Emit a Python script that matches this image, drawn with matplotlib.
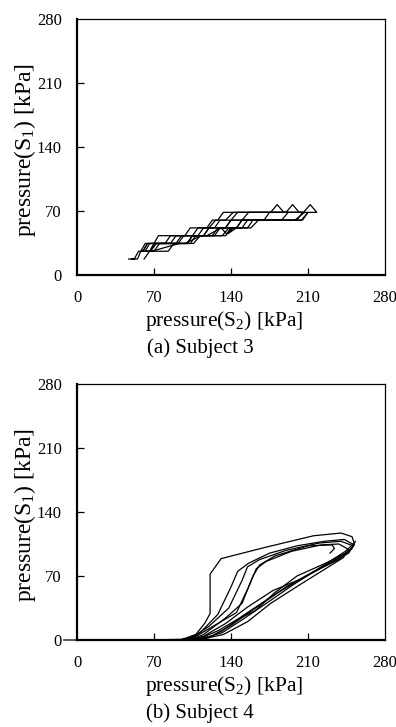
import matplotlib
matplotlib.use("Agg")
import matplotlib.pyplot as plt

plt.rcParams["font.family"] = ["Liberation Serif", "DejaVu Serif"]
plt.rcParams["mathtext.fontset"] = "custom"
plt.rcParams["mathtext.rm"] = "Liberation Serif"

# axis ticks shared by both panels
ticks = [0, 70, 140, 210, 280]
tickLabels = ["0", "70", "140", "210", "280"]

# (a) Subject 3 : quantized S1 staircase cycles
s3_x1 = [47, 52, 56, 60, 64, 85, 90, 110, 115, 125, 130, 140, 146, 176, 182, 188, 205,
         200, 160, 155, 140, 135, 105, 100, 75, 70, 58, 55, 50]
s3_y1 = [17.5, 17.5, 26, 26, 34.5, 34.5, 43, 43, 51.5, 51.5, 60, 60, 68.5, 68.5, 77, 68.5, 68.5,
         60, 60, 51.5, 51.5, 43, 43, 34.5, 34.5, 26, 26, 17.5, 17.5]
s3_x2 = [60, 64, 80, 85, 105, 110, 120, 126, 135, 142, 190, 196, 202, 210,
         205, 165, 158, 138, 132, 112, 106, 72, 67, 62]
s3_y2 = [26, 34.5, 34.5, 43, 43, 51.5, 51.5, 60, 60, 68.5, 68.5, 77, 68.5, 68.5,
         60, 60, 51.5, 51.5, 43, 43, 34.5, 34.5, 26, 26]
s3_x3 = [62, 66, 92, 97, 115, 120, 135, 140, 150, 156, 206, 212, 218, 210,
         204, 155, 150, 141, 136, 131, 118, 113, 98, 93, 68, 63]
s3_y3 = [26, 34.5, 34.5, 43, 43, 51.5, 51.5, 60, 60, 68.5, 68.5, 77, 68.5, 68.5,
         60, 60, 51.5, 51.5, 45, 51.5, 43, 43, 34.5, 34.5, 26, 26]
s3_x4 = [58, 62, 70, 74, 98, 103, 118, 123, 128, 133, 145, 150, 200, 207,
         198, 150, 145, 128, 123, 108, 103, 88, 83, 66, 61]
s3_y4 = [26, 34.5, 34.5, 43, 43, 51.5, 51.5, 60, 60, 68.5, 68.5, 68.5, 68.5, 68.5,
         60, 60, 51.5, 51.5, 43, 43, 34.5, 34.5, 26, 26, 17.5]
s3_x5 = [66, 70, 100, 105, 125, 130, 142, 137, 145, 150, 170, 175, 192,
         186, 140, 135, 120, 115, 95, 90, 72, 66]
s3_y5 = [26, 34.5, 34.5, 43, 43, 51.5, 51.5, 45, 51.5, 60, 60, 68.5, 68.5,
         60, 60, 51.5, 51.5, 43, 43, 34.5, 34.5, 26]
subject3 = [(s3_x1, s3_y1), (s3_x2, s3_y2), (s3_x3, s3_y3), (s3_x4, s3_y4), (s3_x5, s3_y5)]

# (b) Subject 4 : hysteresis loops
s4_x1 = [-12, 40, 95, 108, 116, 121, 121, 131, 170, 215, 240, 250, 252, 244, 222, 196, 172, 150, 132, 112, 60, 0]
s4_y1 = [0, 0, 0.5, 6, 18, 29, 72, 89, 101, 114, 117, 113, 106, 97, 80, 60, 40, 22, 8, 1, 0, 0]
s4_x2 = [0, 98, 112, 128, 140, 146, 156, 175, 200, 225, 243, 252, 248, 232, 208, 183, 160, 140, 122, 100, 0]
s4_y2 = [0, 0, 8, 28, 58, 75, 84, 95, 103, 108, 110, 104, 98, 86, 70, 52, 33, 16, 4, 0, 0]
s4_x3 = [98, 105, 120, 138, 150, 155, 166, 190, 220, 240, 251, 247, 230, 206, 178, 155, 135, 115, 100]
s4_y3 = [0, 3, 15, 35, 65, 80, 88, 98, 106, 108, 103, 95, 84, 68, 54, 36, 18, 4, 0]
s4_x4 = [100, 108, 128, 145, 156, 163, 172, 195, 222, 238, 247, 242, 226, 202, 176, 155, 133, 114, 100]
s4_y4 = [0, 4, 18, 30, 58, 78, 86, 97, 104, 105, 99, 90, 78, 60, 40, 20, 6, 1, 0]
s4_x5 = [102, 115, 135, 150, 160, 166, 180, 210, 232, 234, 230]
s4_y5 = [0, 6, 24, 40, 70, 82, 92, 103, 104, 100, 95]
s4_x6 = [253, 250, 238, 214, 190, 170, 150, 132, 115, 60, 0]
s4_y6 = [108, 100, 88, 74, 58, 42, 26, 10, 0, 0, 0]
s4_x7 = [252, 246, 226, 200, 180, 162, 145, 128, 108]
s4_y7 = [104, 96, 84, 70, 52, 32, 22, 10, 0]
subject4 = [(s4_x1, s4_y1), (s4_x2, s4_y2), (s4_x3, s4_y3), (s4_x4, s4_y4),
            (s4_x5, s4_y5), (s4_x6, s4_y6), (s4_x7, s4_y7)]

fig = plt.figure(figsize=(3.96, 7.27), dpi=100)
W, H = 396.0, 727.0

panels = [
    (subject3, 19, "(a) Subject 3"),
    (subject4, 384, "(b) Subject 4"),
]

for series, topPx, caption in panels:
    ax = fig.add_axes([77 / W, 1 - (topPx + 256) / H, 308 / W, 256 / H])
    for x, y in series:
        ax.plot(x, y, color="black", lw=0.9, clip_on=False)
    ax.set_xlim(0, 280)
    ax.set_ylim(0, 280)
    ax.set_xticks(ticks[1:-1])
    ax.set_yticks(ticks[1:-1])
    ax.set_xticklabels(tickLabels[1:-1])
    ax.set_yticklabels(tickLabels[1:-1])
    ax.set_xticks([0, 280], minor=True)
    ax.set_yticks([0, 280], minor=True)
    ax.set_xticklabels(["0", "280"], minor=True)
    ax.set_yticklabels(["0", "280"], minor=True)
    ax.tick_params(which="both", direction="in", length=5, width=0.9, labelsize=12, pad=11)
    ax.tick_params(which="minor", length=0)
    for side in ["left", "bottom"]:
        ax.spines[side].set_linewidth(1.6)
    for side in ["top", "right"]:
        ax.spines[side].set_linewidth(0.9)

    fig.text(25 / W, 1 - (topPx + 131) / H, r"pressure($\mathregular{S_1}$) [kPa]",
             rotation=90, ha="center", va="center", fontsize=17)
    fig.text(224 / W, 1 - (topPx + 302) / H, r"pressure($\mathregular{S_2}$) [kPa]",
             ha="center", va="center", fontsize=15.5)
    fig.text(200 / W, 1 - (topPx + 329) / H, caption, ha="center", va="center", fontsize=15)

fig.savefig("out.png", dpi=100)
